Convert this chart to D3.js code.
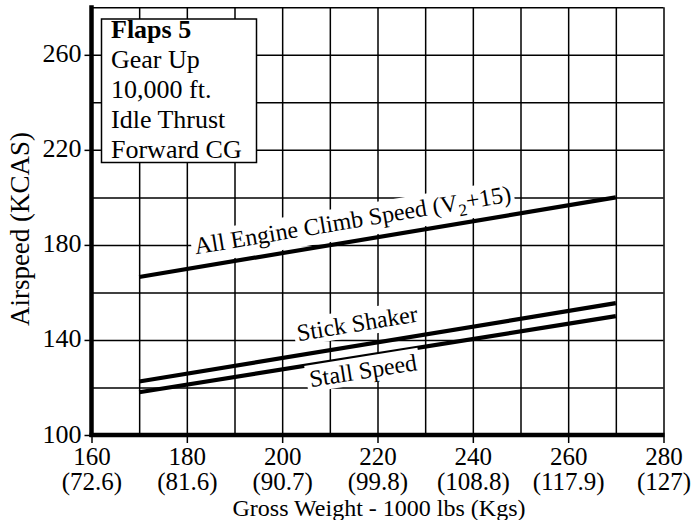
<!DOCTYPE html>
<html>
<head>
<meta charset="utf-8">
<script src="https://cdn.jsdelivr.net/npm/d3@7"></script>
<style>
  html, body { margin: 0; padding: 0; background: #fff; }
</style>
</head>
<body>
<script>
// ---------- data ----------
const weights = [170, 270];                 // gross weight, 1000 lbs
const climbSpeed = [166.5, 200];            // All Engine Climb Speed (V2+15)
const stickShaker = [122.5, 155.5];
const stallSpeed = [118, 150];
const xTicks = [160, 180, 200, 220, 240, 260, 280];
const xTickKgs = ["(72.6)", "(81.6)", "(90.7)", "(99.8)", "(108.8)", "(117.9)", "(127)"];
const yTicks = [100, 140, 180, 220, 260];
const legendLines = ["Flaps 5", "Gear Up", "10,000 ft.", "Idle Thrust", "Forward CG"];
const yTitle = "Airspeed (KCAS)";
const xTitle = "Gross Weight - 1000 lbs (Kgs)";

// ---------- setup ----------
const FONT = '"Liberation Serif", "Times New Roman", Times, serif';
const W = 696, H = 520;
const svg = d3.select("body").append("svg").attr("width", W).attr("height", H)
  .style("font-family", FONT).style("display", "block");

const x = d3.scaleLinear().domain([160, 280]).range([91.5, 663.5]);
const y = d3.scaleLinear().domain([100, 280]).range([435, 7.3]);

// ---------- grid ----------
const gridX = d3.range(170, 281, 10);
const gridY = d3.range(120, 281, 20);
svg.append("g")
  .attr("transform", `translate(0,${y(100)})`)
  .call(d3.axisBottom(x).tickValues(gridX).tickSize(-(y(100) - y(280))).tickFormat(""))
  .call(g => g.select(".domain").remove())
  .call(g => g.selectAll("line").attr("stroke", "#000").attr("stroke-width", 1.5));
svg.append("g")
  .attr("transform", `translate(${x(160)},0)`)
  .call(d3.axisLeft(y).tickValues(gridY).tickSize(-(x(280) - x(160))).tickFormat(""))
  .call(g => g.select(".domain").remove())
  .call(g => g.selectAll("line").attr("stroke", "#000").attr("stroke-width", 1.5));

// ---------- axes ----------
const yAxis = svg.append("g")
  .attr("transform", `translate(${x(160)},0)`)
  .call(d3.axisLeft(y).tickValues(yTicks).tickSize(7).tickPadding(3).tickFormat(d3.format("d")));
yAxis.select(".domain").remove();
yAxis.selectAll("line").attr("stroke", "#000").attr("stroke-width", 1.5);
yAxis.selectAll("text").attr("fill", "#000").attr("dy", "0.27em")
  .style("font-family", FONT).style("font-size", "26px");

const xAxis = svg.append("g")
  .attr("transform", `translate(0,${y(100)})`)
  .call(d3.axisBottom(x).tickValues(xTicks).tickSize(8).tickPadding(0).tickFormat(d3.format("d")));
xAxis.select(".domain").remove();
xAxis.selectAll("line").attr("stroke", "#000").attr("stroke-width", 1.5);
xAxis.selectAll("text")
  .attr("fill", "#000")
  .style("font-family", FONT).style("font-size", "25px")
  .attr("dy", null)
  .attr("y", null)
  .each(function (d, i) {
    const t = d3.select(this);
    t.text(null);
    t.append("tspan").attr("x", 0).attr("y", 30).text(d3.format("d")(d));
    t.append("tspan").attr("x", 0).attr("y", 55).text(xTickKgs[i]);
  });

// thick axis lines
svg.append("line")
  .attr("x1", x(160)).attr("x2", x(160))
  .attr("y1", y(100) + 2).attr("y2", y(280) - 2)
  .attr("stroke", "#000").attr("stroke-width", 4.5);
svg.append("line")
  .attr("x1", x(160) - 2).attr("x2", x(280) + 1)
  .attr("y1", y(100)).attr("y2", y(100))
  .attr("stroke", "#000").attr("stroke-width", 4.5);

// ---------- titles ----------
svg.append("text")
  .attr("transform", `translate(29,229) rotate(-90)`)
  .attr("text-anchor", "middle")
  .style("font-family", FONT).style("font-size", "27px")
  .text(yTitle);
svg.append("text")
  .attr("x", 379).attr("y", 515.5)
  .attr("text-anchor", "middle")
  .style("font-family", FONT).style("font-size", "24px")
  .text(xTitle);

// ---------- data lines ----------
const line = d3.line().x(d => x(d[0])).y(d => y(d[1]));
const series = [climbSpeed, stickShaker, stallSpeed];
series.forEach(s => {
  svg.append("path")
    .datum(weights.map((w, i) => [w, s[i]]))
    .attr("d", line)
    .attr("fill", "none")
    .attr("stroke", "#000")
    .attr("stroke-width", 4.2);
});

// ---------- line labels ----------
function lineLabel(s, atWeight, offset, build) {
  const t = (atWeight - weights[0]) / (weights[1] - weights[0]);
  const v = s[0] + t * (s[1] - s[0]);
  const px = x(atWeight), py = y(v);
  const ang = Math.atan2(y(s[1]) - y(s[0]), x(weights[1]) - x(weights[0])) * 180 / Math.PI;
  const g = svg.append("g").attr("transform", `translate(${px},${py}) rotate(${ang})`);
  const bg = g.append("rect").attr("fill", "#fff");
  const txt = g.append("text")
    .attr("text-anchor", "middle")
    .style("font-family", FONT).style("font-size", "24px")
    .attr("y", offset);
  build(txt);
  const bb = txt.node().getBBox();
  bg.attr("x", bb.x - 3).attr("y", bb.y - 1)
    .attr("width", bb.width + 6).attr("height", bb.height + 1);
}

lineLabel(climbSpeed, 215.5, -13, t => {
  t.append("tspan").text("All Engine Climb Speed (V");
  t.append("tspan").style("font-size", "17px").attr("dy", 6).text("2");
  t.append("tspan").attr("dy", -6).text("+15)");
});
lineLabel(stickShaker, 216.5, -14, t => t.text("Stick Shaker"));
lineLabel(stallSpeed, 216.5, 22, t => t.text("Stall Speed"));

// ---------- legend box ----------
const leg = svg.append("g");
leg.append("rect")
  .attr("x", 101.5).attr("y", 19)
  .attr("width", 155).attr("height", 143.5)
  .attr("fill", "#fff").attr("stroke", "#000").attr("stroke-width", 1.5);
leg.selectAll("text").data(legendLines).join("text")
  .attr("x", 111)
  .attr("y", (d, i) => 37.5 + i * 30)
  .style("font-family", FONT).style("font-size", "26px")
  .style("font-weight", (d, i) => i === 0 ? "bold" : "normal")
  .text(d => d);
</script>
</body>
</html>
